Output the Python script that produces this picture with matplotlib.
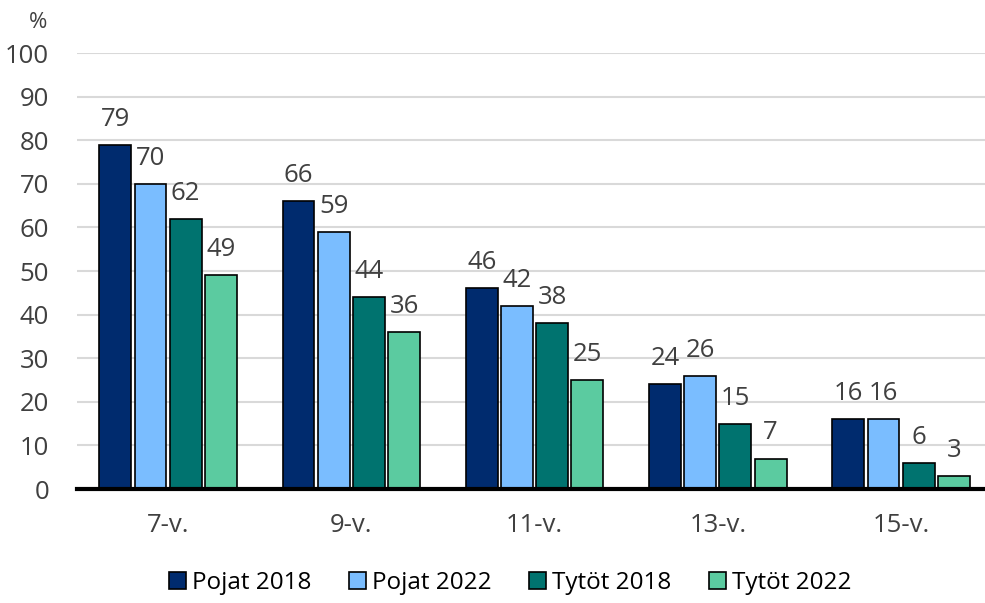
import matplotlib
matplotlib.use("Agg")
import matplotlib.pyplot as plt
import numpy as np

# Data
ages = ['7-v.', '9-v.', '11-v.', '13-v.', '15-v.']
series = ['Pojat 2018', 'Pojat 2022', 'Tytöt 2018', 'Tytöt 2022']
pojat_2018 = [79, 66, 46, 24, 16]
pojat_2022 = [70, 59, 42, 26, 16]
tytot_2018 = [62, 44, 38, 15, 6]
tytot_2022 = [49, 36, 25, 7, 3]
colors = ['#002B6E', '#7ABDFF', '#00736F', '#5BCBA0']

plt.rcParams['font.family'] = ['Open Sans', 'DejaVu Sans']
txt = '#404040'

fig = plt.figure(figsize=(9.85, 6.03), dpi=100)
ax = fig.add_axes([77 / 985, 0.189, 908 / 985, 0.723])

x = np.arange(len(ages))
w = 0.174
step = 0.192
for i, (name, vals) in enumerate(zip(series, [pojat_2018, pojat_2022, tytot_2018, tytot_2022])):
    pos = x + (i - 1.5) * step
    bars = ax.bar(pos, vals, w, color=colors[i], edgecolor='black', linewidth=1.2,
                  label=name, zorder=3)
    for b, v in zip(bars, vals):
        ax.text(b.get_x() + b.get_width() / 2, v + 3, str(v), ha='center', va='bottom',
                fontsize=18.5, color=txt)

ax.set_xlim(-0.497, 4.458)
ax.set_ylim(0, 100)
ax.set_yticks(range(0, 101, 10))
ax.set_xticks(x)
ax.set_xticklabels(ages)
ax.tick_params(axis='both', length=0, labelsize=18.5, colors=txt)
ax.tick_params(axis='y', pad=20)
ax.tick_params(axis='x', pad=17)
ax.grid(axis='y', color='#D9D9D9', linewidth=1.5, zorder=0)
for s in ['top', 'right', 'left']:
    ax.spines[s].set_visible(False)
ax.spines['bottom'].set_linewidth(3)
ax.spines['bottom'].set_zorder(4)

fig.text(0.039, 0.963, '%', fontsize=16, color=txt, ha='center', va='center')

fig.legend(loc='center', bbox_to_anchor=(0.518, 0.033), ncol=4, frameon=False,
           fontsize=17.5, handlelength=0.7, handleheight=0.7, handletextpad=0.25,
           columnspacing=1.55, labelcolor='black')

fig.savefig('out.png', dpi=100)
